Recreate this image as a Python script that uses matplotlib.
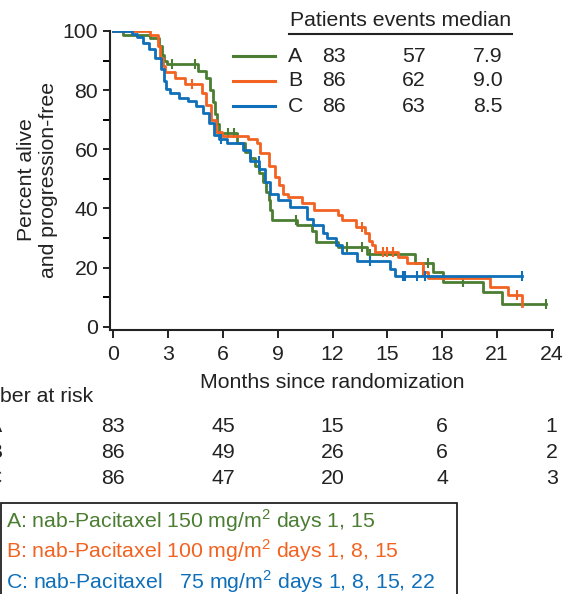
import numpy as np
import matplotlib.pyplot as plt
from matplotlib.lines import Line2D
from matplotlib.patches import Rectangle
from matplotlib.transforms import blended_transform_factory

plt.rcParams['font.family'] = ['Liberation Sans', 'DejaVu Sans']
plt.rcParams['mathtext.fontset'] = 'custom'
plt.rcParams['mathtext.rm'] = 'Liberation Sans'

arms = ['A', 'B', 'C']
colors = ['#4b7d32', '#f26322', '#0f6fb8']

# Kaplan-Meier steps (months, percent)
time_a = [0, 0.53, 2.0, 2.5, 2.65, 2.8, 2.94, 4.64, 5.05, 5.3, 5.45, 5.55, 5.65, 5.8,
          6.76, 7.2, 7.5, 7.75, 8.0, 8.2, 8.35, 8.5, 8.6, 8.7, 10.05, 10.9, 11.1,
          12.3, 13.9, 16.5, 17.5, 18.05, 20.24, 21.27]
surv_a = [100, 98.8, 97.6, 95, 92, 90, 88.9, 86.5, 84, 80, 76, 72, 68.5, 65.6,
          62, 59, 57, 54.5, 52, 49, 45.5, 43, 39.4, 36, 34.5, 32.5, 28.6,
          27, 24.6, 21.5, 18.5, 15.2, 11.8, 7.7]
cens_a = [3.21, 4.47, 6.3, 6.6, 10.0, 12.79, 13.6, 14.05, 17.22, 19.14, 23.7]

time_b = [0, 2.0, 2.45, 2.55, 2.7, 2.85, 3.4, 3.95, 4.85, 5.1, 5.35, 5.6, 5.95,
          7.37, 7.85, 8.05, 8.5, 8.85, 9.05, 9.3, 9.55, 10.35, 11.0, 12.3, 12.5,
          13.3, 13.8, 14.0, 14.15, 14.35, 15.58, 16.07, 16.95, 17.22, 20.62, 21.6, 22.37]
surv_b = [100, 98.5, 95, 91, 88, 86, 84, 82, 79, 75, 70, 66, 64.6,
          63.6, 62, 58.6, 54.5, 50.5, 47.8, 45, 43.8, 42, 39.4, 37.7, 36,
          33.7, 31.6, 29, 27.6, 25.2, 23.5, 21.5, 18.5, 16.5, 13.5, 10.8, 7.1]
cens_b = [4.31, 13.6, 14.76, 14.98, 15.3, 16.95, 22.1]

time_c = [0, 1.02, 1.3, 1.6, 1.95, 2.3, 2.6, 2.75, 2.9, 3.1, 3.6, 4.1, 4.55, 4.9,
          5.25, 5.5, 5.8, 6.2, 7.1, 7.48, 8.0, 8.3, 8.6, 9.0, 9.67, 10.6, 10.94,
          11.48, 11.7, 12.2, 12.5, 13.34, 15.14, 15.42]
surv_c = [100, 99, 98, 96, 94, 91, 87, 83, 80.5, 79, 77.4, 76.4, 74.7, 72.4,
          69, 65, 63.5, 62, 59.6, 56, 53.5, 49, 45, 42.8, 40.4, 36.5, 34.3,
          31.6, 30, 27.6, 25, 22.2, 19.5, 17]
cens_c = [5.9, 7.98, 14.05, 15.86, 15.97, 16.62, 17.06, 22.37]

end_times = [23.7, 22.37, 22.37]

patients = [83, 86, 86]
events = [57, 62, 63]
medians = ['7.9', '9.0', '8.5']

risk_times = [0, 6, 12, 18, 24]
risk_a = [83, 45, 15, 6, 1]
risk_b = [86, 49, 26, 6, 2]
risk_c = [86, 47, 20, 4, 3]

regimens = [r'A: nab-Pacitaxel 150 mg/m$^{2}$ days 1, 15',
            r'B: nab-Pacitaxel 100 mg/m$^{2}$ days 1, 8, 15',
            r'C: nab-Pacitaxel   75 mg/m$^{2}$ days 1, 8, 15, 22']

W, H = 564, 594
FS = 15.3
INK = '#222222'


def fx(x):
    return x / W


def fy(y):
    return 1 - y / H


fig = plt.figure(figsize=(W / 100, H / 100), dpi=100)
ax = fig.add_axes([fx(110), fy(330), 443 / W, 299 / H])

curves = [(time_a, surv_a, cens_a), (time_b, surv_b, cens_b), (time_c, surv_c, cens_c)]
for (t, s, c), end, col in zip(curves, end_times, colors):
    tt = np.append(t, end)
    ss = np.append(s, s[-1])
    ax.step(tt, ss, where='post', color=col, lw=2.0)
    idx = np.searchsorted(t, c, side='right') - 1
    ax.plot(c, np.array(s)[idx], ls='none', marker='|', ms=6.5, mew=1.5, color=col)

ax.set_xlim(-0.18, 24.07)
ax.set_ylim(-1.1, 100)
ax.set_xticks(range(0, 25, 3))
ax.set_yticks(range(0, 101, 20))
ax.set_yticks(range(10, 100, 20), minor=True)
ax.spines['top'].set_visible(False)
ax.spines['right'].set_visible(False)
for sp in ['left', 'bottom']:
    ax.spines[sp].set_linewidth(1.5)
    ax.spines[sp].set_color(INK)
ax.tick_params(axis='both', labelsize=FS, width=1.4, color=INK, labelcolor=INK)
ax.tick_params(axis='x', length=6, pad=5)
ax.tick_params(axis='y', which='both', length=5, width=1.4, pad=3.5)

fig.text(fx(332), fy(383), 'Months since randomization', ha='center', va='center',
         fontsize=FS, color=INK)
fig.text(fx(38), fy(180), 'Percent alive\nand progression-free', rotation=90,
         ha='center', va='center', fontsize=FS, linespacing=1.2, color=INK)

# legend table in the top right
fig.text(fx(290), fy(21), 'Patients events median', ha='left', va='center',
         fontsize=FS, color=INK)
fig.add_artist(Line2D([fx(289), fx(512)], [fy(34), fy(34)], color=INK, lw=1.5))
row_y = [56, 81, 106]
for i in range(3):
    y = fy(row_y[i])
    fig.add_artist(Line2D([fx(233), fx(275)], [y, y], color=colors[i], lw=2.2))
    fig.text(fx(288), y, arms[i], ha='left', va='center', fontsize=FS, color=INK)
    fig.text(fx(322), y, str(patients[i]), ha='left', va='center', fontsize=FS, color=INK)
    fig.text(fx(402), y, str(events[i]), ha='left', va='center', fontsize=FS, color=INK)
    fig.text(fx(473), y, medians[i], ha='left', va='center', fontsize=FS, color=INK)

# number at risk
trans = blended_transform_factory(ax.transData, fig.transFigure)
fig.text(fx(93), fy(397), 'Number at risk', ha='right', va='center', fontsize=FS, color=INK)
risk_rows = [risk_a, risk_b, risk_c]
risk_y = [427, 452, 478]
for i in range(3):
    fig.text(fx(2), fy(risk_y[i]), arms[i], ha='right', va='center', fontsize=FS, color=INK)
    for t, n in zip(risk_times, risk_rows[i]):
        ax.text(t, fy(risk_y[i]), str(n), transform=trans, ha='center', va='center',
                fontsize=FS, color=INK, clip_on=False)

# regimen box
fig.add_artist(Rectangle((fx(1), -0.05), fx(457) - fx(1), fy(503) + 0.05, fill=False,
                         lw=1.3, edgecolor=INK, transform=fig.transFigure))
reg_y = [521, 551, 582]
for i in range(3):
    fig.text(fx(6), fy(reg_y[i]), regimens[i], ha='left', va='center', fontsize=FS,
             color=colors[i])

fig.savefig('out.png', dpi=100)
